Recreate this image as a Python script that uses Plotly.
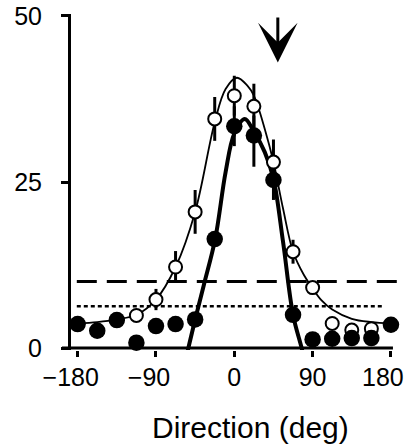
import plotly.graph_objects as go

# ---- data ----
directions = [-180, -157.5, -135, -112.5, -90, -67.5, -45, -22.5, 0, 22.5, 45, 67.5, 90, 112.5, 135, 157.5, 180]

filled_vals = [3.6, 2.6, 4.2, 0.8, 3.3, 3.6, 4.3, 16.4, 33.4, 32.0, 25.3, 5.0, 1.3, 1.4, 1.5, 1.5, 3.5]
filled_err_plus = [0, 0, 0, 0, 0, 0, 0, 0, 3.0, 3.0, 1.5, 0, 0, 0, 0, 0, 0]
filled_err_minus = [0, 0, 0, 0, 0, 0, 0, 0, 3.0, 4.7, 3.0, 0, 0, 0, 0, 0, 0]

open_vals = [3.6, 2.6, 4.2, 4.9, 7.3, 12.2, 20.5, 34.5, 38.0, 36.4, 28.0, 14.5, 9.1, 3.7, 2.7, 2.9, 3.5]
open_err = [0, 0, 0, 0, 1.6, 2.4, 3.3, 3.3, 3.0, 3.4, 3.4, 1.8, 0, 0, 0, 0, 0]

# fitted tuning curves
thin_fit_x = [-180, -157.5, -135, -112.5, -90, -67.5, -45, -22.5, -10, 3, 15, 22.5, 35, 45, 56, 67.5, 80, 90, 100, 112.5, 135, 157.5, 180]
thin_fit_y = [3.7, 3.9, 4.3, 5.0, 7.3, 12.2, 20.5, 34.0, 39.0, 40.7, 39.5, 38.0, 33.0, 28.0, 21.0, 14.5, 11.0, 9.0, 7.2, 5.8, 4.4, 3.9, 3.7]

thick_fit_x = [-60, -52.8, -45, -35, -22, -10, 0, 12, 22.5, 35, 45, 56, 67.5, 77.4, 85]
thick_fit_y = [-4.0, 0.0, 4.3, 9.5, 16.4, 26.5, 32.3, 34.5, 32.6, 29.5, 25.5, 16.0, 5.0, 0.0, -4.0]

dashed_level = 10.0
dotted_level = 6.3
arrow_direction = 50
arrow_tip, arrow_tail = 43, 50

x_tick_vals = [-180, -90, 0, 90, 180]
x_tick_text = ["\u2212180\u00a0\u00a0", "\u221290\u00a0\u00a0", "0", "90", ""]
last_x_label = "180"
y_tick_vals = [0, 25, 50]
y_tick_text = ["0", "25", "50"]

FONT = "Liberation Sans, Arial, Helvetica, sans-serif"

fig = go.Figure()

fig.add_trace(go.Scatter(x=thin_fit_x, y=thin_fit_y, mode="lines",
                         line=dict(color="black", width=1.8, shape="spline", smoothing=1.0),
                         hoverinfo="skip"))
fig.add_trace(go.Scatter(x=thick_fit_x, y=thick_fit_y, mode="lines",
                         line=dict(color="black", width=4, shape="spline", smoothing=1.0),
                         hoverinfo="skip"))

fig.add_trace(go.Scatter(x=directions, y=open_vals, mode="markers",
                         marker=dict(symbol="circle", size=13, color="white",
                                     line=dict(color="black", width=2.0)),
                         error_y=dict(type="data", array=open_err, symmetric=True,
                                      color="black", thickness=3, width=0),
                         cliponaxis=False))
fig.add_trace(go.Scatter(x=directions, y=filled_vals, mode="markers",
                         marker=dict(symbol="circle", size=16.5, color="black",
                                     line=dict(color="black", width=0)),
                         error_y=dict(type="data", array=filled_err_plus, arrayminus=filled_err_minus,
                                      symmetric=False, color="black", thickness=3, width=0),
                         cliponaxis=False))

shapes = [
    dict(type="line", xref="x", yref="y", x0=-181, x1=197.3, y0=dashed_level, y1=dashed_level,
         line=dict(color="black", width=3, dash="20px,10px"), layer="below"),
    dict(type="line", xref="x", yref="y", x0=-181, x1=170, y0=dotted_level, y1=dotted_level,
         line=dict(color="black", width=2.5, dash="4px,3px"), layer="below"),
    dict(type="line", xref="x", yref="y", x0=-198, x1=182.3, y0=0, y1=0,
         line=dict(color="black", width=3), layer="above"),
]

annotations = [
    dict(x=arrow_direction, y=arrow_tip, ax=arrow_direction, ay=arrow_tail,
         xref="x", yref="y", axref="x", ayref="y", text="", showarrow=True,
         arrowhead=3, arrowsize=2.2, arrowwidth=3, arrowcolor="black", standoff=0),
    dict(x=0.549, y=-0.23, xref="paper", yref="paper", text="Direction (deg)",
         showarrow=False, xanchor="center", yanchor="middle",
         font=dict(family=FONT, size=30, color="black")),
    dict(x=0.998, y=-0.080, xref="paper", yref="paper", text=last_x_label,
         showarrow=False, xanchor="right", yanchor="middle", borderpad=0,
         font=dict(family=FONT, size=25, color="black")),
]

fig.update_layout(
    width=406, height=444,
    margin=dict(l=62, r=0, t=14, b=94, pad=0, autoexpand=False),
    paper_bgcolor="white", plot_bgcolor="white",
    showlegend=False,
    shapes=shapes, annotations=annotations,
    font=dict(family=FONT, color="black"),
    xaxis=dict(range=[-198, 197.3], tickmode="array", tickvals=x_tick_vals, ticktext=x_tick_text,
               ticks="outside", ticklen=6, tickwidth=2.5, tickcolor="black", automargin=False,
               showline=False, showgrid=False, zeroline=False, ticklabeloverflow="allow",
               tickfont=dict(family=FONT, size=25, color="black"), ticklabelstandoff=-1),
    yaxis=dict(range=[-0.3, 50.3], tickmode="array", tickvals=y_tick_vals, ticktext=y_tick_text,
               ticks="outside", ticklen=7, tickwidth=2.5, tickcolor="black", automargin=False,
               showline=True, linewidth=3, linecolor="black",
               anchor="free", position=0.02035,
               showgrid=False, zeroline=False,
               tickfont=dict(family=FONT, size=25, color="black"), ticklabelstandoff=14),
)

fig.write_html("out.html")
